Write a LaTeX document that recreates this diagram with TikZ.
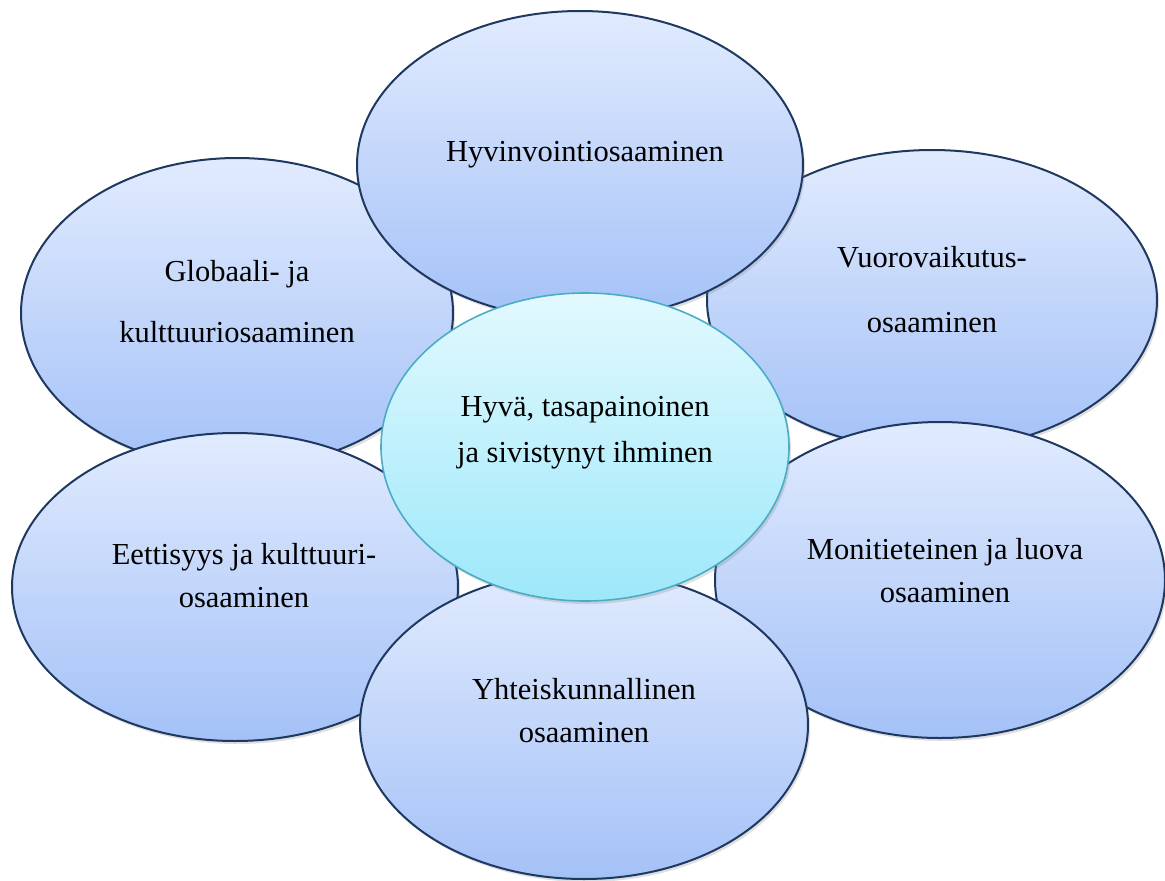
\documentclass[tikz,border=0pt]{standalone}
\usepackage{fontspec}
\setmainfont{Liberation Serif}
\usetikzlibrary{shapes.geometric, shadows}
\definecolor{petalTop}{RGB}{225,235,254}
\definecolor{petalBot}{RGB}{164,193,247}
\definecolor{petalLine}{RGB}{31,56,96}
\definecolor{coreTop}{RGB}{226,249,254}
\definecolor{coreBot}{RGB}{157,232,250}
\definecolor{coreLine}{RGB}{75,172,198}

\begin{document}
\begin{tikzpicture}[x=1pt, y=-1pt,
           petal/.style={ellipse, draw=petalLine, line width=2pt, inner sep=0pt,
              top color=petalTop, bottom color=petalBot,
              drop shadow={shadow xshift=2pt, shadow yshift=-3pt, opacity=0.25}},
           core/.style={ellipse, draw=coreLine, line width=1.6pt, inner sep=0pt,
              top color=coreTop, bottom color=coreBot,
              drop shadow={shadow xshift=2pt, shadow yshift=-3pt, opacity=0.25}},
           caption/.style={align=center, font=\fontsize{30.5}{43}\selectfont},
        ]
        \useasboundingbox (0,0) rectangle (1165,881);

        % outer ellipses, back to front
        \node at (237,313) (globaali) [petal, minimum width=432pt, minimum height=310pt] {};
        \node at (932,300) (vuoro) [petal, minimum width=450pt, minimum height=300pt] {};
        \node at (235,587) (eettisyys) [petal, minimum width=446pt, minimum height=308pt] {};
        \node at (940,580) (moni) [petal, minimum width=450pt, minimum height=316pt] {};
        \node at (580,165) (hyvinvointi) [petal, minimum width=446pt, minimum height=308pt] {};
        \node at (584,725) (yhteis) [petal, minimum width=448pt, minimum height=308pt] {};
        % centre
        \node at (585,447) (ihminen) [core, minimum width=408pt, minimum height=308pt] {};

        % texts
        \node at (585,155) (hyvinvointiText) [caption] {Hyvinvointiosaaminen};
        \node at (237,302) (globaaliText) [caption] {Globaali- ja\\[18pt] kulttuuriosaaminen};
        \node at (932,290) (vuoroText) [caption] {Vuorovaikutus-\\[22pt] osaaminen};
        \node at (585,433) (ihminenText) [caption] {Hyvä, tasapainoinen\\[3pt] ja sivistynyt ihminen};
        \node at (244,576) (eettisyysText) [caption] {Eettisyys ja kulttuuri-\\ osaaminen};
        \node at (945,571) (moniText) [caption] {Monitieteinen ja luova\\ osaaminen};
        \node at (584,711) (yhteisText) [caption] {Yhteiskunnallinen\\ osaaminen};
     \end{tikzpicture}
\end{document}
